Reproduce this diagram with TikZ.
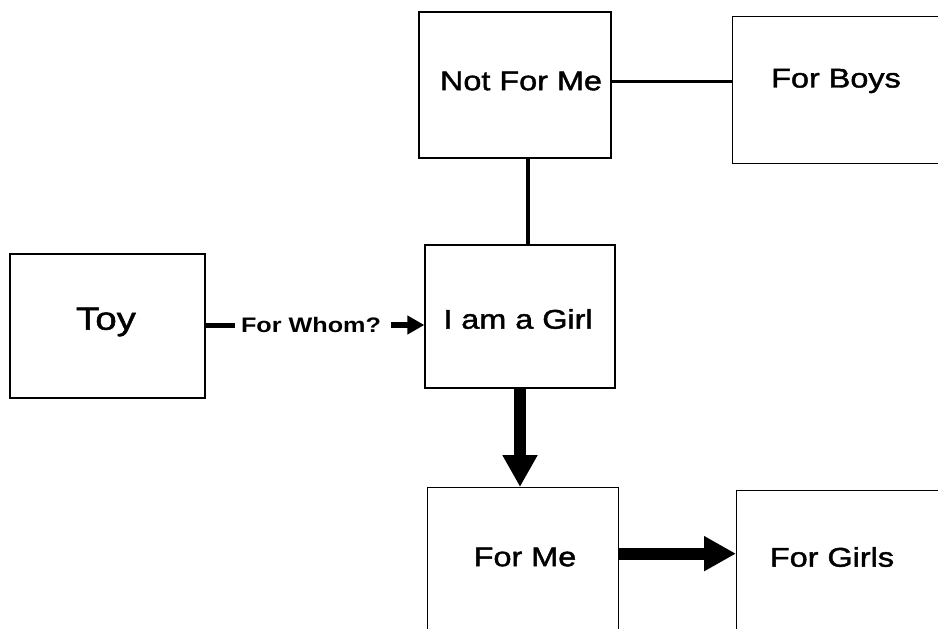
\documentclass[tikz,border=0pt]{standalone}
\usepackage{fontspec}
\setmainfont{Liberation Sans}[FakeStretch=1.2]
\newfontfamily\heavyfont{Liberation Sans}[FakeStretch=1.2,FakeBold=1.6]
\usetikzlibrary{arrows.meta,calc}
\begin{document}
\begin{tikzpicture}[x=1pt,y=-1pt,
  box/.style={draw, line width=1.3pt, rectangle, inner sep=0pt},
  txt/.style={inner sep=0pt, font=\heavyfont\fontsize{27}{30}\selectfont},
  bigtxt/.style={inner sep=0pt, font=\heavyfont\fontsize{32}{36}\selectfont},
  smalltxt/.style={inner xsep=6pt, inner ysep=0pt, font=\fontsize{21}{24}\selectfont\bfseries},
  thinlink/.style={line width=3pt},
  medlink/.style={line width=4.5pt},
  biglink/.style={line width=12pt, -{Triangle[length=32pt,width=33pt]}},
  smallarrow/.style={line width=5.5pt, -{Triangle[length=17pt,width=18pt]}}
]
\useasboundingbox (0,0) rectangle (938,629);
\clip (0,0) rectangle (938,629);
% boxes
\node[box, minimum width=195pt, minimum height=144pt] (toy) at (107.5,326) {};
\node[box, minimum width=192pt, minimum height=146pt] (nfm) at (515,85) {};
\node[box, minimum width=230pt, minimum height=147pt, anchor=north west] (boys) at (732,16) {};
\node[box, minimum width=190pt, minimum height=143pt] (girl) at (520,316.5) {};
\node[box, minimum width=191pt, minimum height=170pt, anchor=north west] (forme) at (427,487) {};
\node[box, minimum width=230pt, minimum height=170pt, anchor=north west] (girls) at (736,490) {};
% texts
\node[bigtxt] (toyt) at (106,322) {Toy};
\node[txt] (nfmt) at (521,81) {Not For Me};
\node[txt] (boyst) at (836,81) {For Boys};
\node[txt] (girlt) at (518,319) {I am a Girl};
\node[txt] (formet) at (525,557) {For Me};
\node[txt] (girlst) at (832,557) {For Girls};
\node[smalltxt] (fw) at (311,325) {For Whom?};
% connectors
\draw[thinlink] ([yshift=4pt]nfm.east) -- ([yshift=4pt]nfm.east -| boys.west);
\draw[medlink] ([xshift=13pt]nfm.south) -- ([xshift=13pt]nfm.south |- girl.north);
\draw[biglink] (girl.south) -- (girl.south |- forme.north);
\draw[biglink] ([yshift=19pt]forme.east) -- ([yshift=19pt]forme.east -| girls.west);
\draw[line width=5pt] (toy.east |- fw) -- (fw.west);
\draw[smallarrow] ([xshift=4pt]fw.east) -- (fw.east -| girl.west);
\end{tikzpicture}
\end{document}
